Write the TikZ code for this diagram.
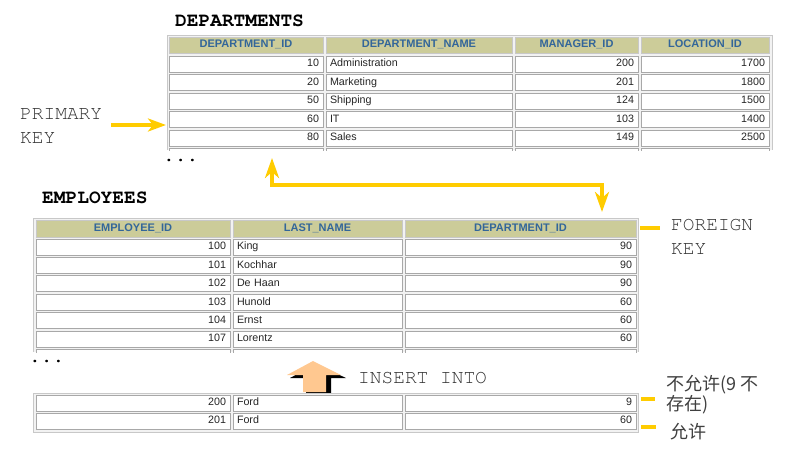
\documentclass[tikz,border=0pt]{standalone}
\usepackage{fontspec}
\setmainfont{Liberation Sans}
\newfontfamily\monofont{TeX Gyre Cursor}
\newfontfamily\cjk{Noto Sans CJK SC}
\usetikzlibrary{arrows.meta}
\definecolor{ykey}{HTML}{FFCC00}
\definecolor{khaki}{HTML}{CCCC99}
\definecolor{hblue}{HTML}{336699}
\definecolor{cellgray}{HTML}{A8A8A8}
\definecolor{framegray}{HTML}{C8C8C8}
\definecolor{tablebg}{HTML}{F2F2F2}
\definecolor{peach}{HTML}{FFC890}
\newcommand\tcell[8]{%
  \pgfmathsetmacro\tcw{#4-#2-8}%
  \pgfmathsetmacro\tch{#5-#3}%
  \pgfmathsetmacro\tcx{(#2+#4)/2}%
  \pgfmathsetmacro\tcy{(#3+#5)/2}%
  \node[#6, text width=\tcw pt, minimum height=\tch pt, align=#7] (#1) at (\tcx,\tcy) {#8};%
}
\tikzset{
  cellbox/.style={draw=cellgray, fill=white, line width=1pt, inner xsep=4pt, inner ysep=0pt,
    font=\fontsize{10.7}{12}\selectfont, text=black!85, text height=7.6pt, text depth=2pt},
  headbox/.style={draw=framegray, fill=khaki, line width=1pt, inner xsep=4pt, inner ysep=0pt,
    font=\fontsize{11}{12}\selectfont\bfseries, text=hblue, text height=7.8pt, text depth=2pt},
  monolabel/.style={inner sep=0pt, font=\monofont\fontsize{19.5}{24}\selectfont, text=black!80, align=left},
  titlelabel/.style={inner sep=0pt, font=\monofont\bfseries\fontsize{19.5}{24}\selectfont, text=black},
  cjklabel/.style={inner sep=0pt, font=\cjk\fontsize{18}{17}\selectfont, text=black!75, align=left},
  yarrow/.style={draw=ykey, line width=4pt, -{Stealth[length=18pt,width=13pt,inset=5pt]}},
  ydouble/.style={draw=ykey, line width=4pt, {Stealth[length=20pt,width=14pt,inset=6pt]}-{Stealth[length=20pt,width=14pt,inset=6pt]}},
  ydash/.style={draw=ykey, line width=4pt},
}
\begin{document}
\begin{tikzpicture}[x=1pt,y=-1pt]
\useasboundingbox[fill=white] (0,0) rectangle (801,463);

% ---------------- DEPARTMENTS ----------------
\node[titlelabel, anchor=base west] (dtitle) at (175,27) {DEPARTMENTS};
\fill[tablebg] (167,35) rectangle (772,150);
\draw[framegray, line width=1pt] (167,150) -- (167,35) -- (772,35) -- (772,150);
\tcell{dh1}{169}{37}{323}{53}{headbox}{center}{DEPARTMENT\_ID}
\tcell{dh2}{326}{37}{512}{53}{headbox}{center}{DEPARTMENT\_NAME}
\tcell{dh3}{515}{37}{638}{53}{headbox}{center}{MANAGER\_ID}
\tcell{dh4}{641}{37}{769}{53}{headbox}{center}{LOCATION\_ID}
\foreach \a/\b/\c/\d [count=\i] in {10/Administration/200/1700, 20/Marketing/201/1800,
    50/Shipping/124/1500, 60/IT/103/1400, 80/Sales/149/2500}{
  \pgfmathsetmacro\ytop{56+(\i-1)*18.5}
  \pgfmathsetmacro\ybot{\ytop+16}
  \tcell{d\i c1}{169}{\ytop}{323}{\ybot}{cellbox}{right}{\a}
  \tcell{d\i c2}{326}{\ytop}{512}{\ybot}{cellbox}{left}{\b}
  \tcell{d\i c3}{515}{\ytop}{638}{\ybot}{cellbox}{right}{\c}
  \tcell{d\i c4}{641}{\ytop}{769}{\ybot}{cellbox}{right}{\d}
}
\begin{scope}
  \clip (160,147) rectangle (780,150.5);
  \foreach \xa/\xb in {169/323, 326/512, 515/638, 641/769}
    \draw[cellgray, line width=1pt, fill=white] (\xa,148.5) rectangle (\xb,160);
\end{scope}
\node[titlelabel, anchor=base west] (ddots) at (163,161) {...};

% PRIMARY KEY
\node[monolabel, anchor=west] (pk) at (20,126) {PRIMARY\\KEY};
\coordinate (pktip) at (166,125);
\draw[yarrow] ([xshift=9pt]pk.east |- pktip) -- (pktip);

% link between the tables
\coordinate (fktop) at (272,158);
\coordinate (fkmid) at (602,185);
\coordinate (fkbot) at (602,212);
\draw[ydouble] (fktop) |- (fkmid) -- (fkbot);

% ---------------- EMPLOYEES ----------------
\node[titlelabel, anchor=base west] (etitle) at (42,203) {EMPLOYEES};
\fill[tablebg] (33,218) rectangle (638,352);
\draw[framegray, line width=1pt] (33,352) -- (33,218) -- (638,218) -- (638,352);
\tcell{eh1}{36}{220}{230}{237}{headbox}{center}{EMPLOYEE\_ID}
\tcell{eh2}{233}{220}{402}{237}{headbox}{center}{LAST\_NAME}
\tcell{eh3}{405}{220}{636}{237}{headbox}{center}{DEPARTMENT\_ID}
\foreach \a/\b/\c [count=\i] in {100/King/90, 101/Kochhar/90, 102/De Haan/90,
    103/Hunold/60, 104/Ernst/60, 107/Lorentz/60}{
  \pgfmathsetmacro\ytop{239+(\i-1)*18.4}
  \pgfmathsetmacro\ybot{\ytop+16}
  \tcell{e\i c1}{36}{\ytop}{230}{\ybot}{cellbox}{right}{\a}
  \tcell{e\i c2}{233}{\ytop}{402}{\ybot}{cellbox}{left}{\b}
  \tcell{e\i c3}{405}{\ytop}{636}{\ybot}{cellbox}{right}{\c}
}
\begin{scope}
  \clip (25,348) rectangle (645,352.5);
  \foreach \xa/\xb in {36/230, 233/402, 405/636}
    \draw[cellgray, line width=1pt, fill=white] (\xa,349.5) rectangle (\xb,360);
\end{scope}
\node[titlelabel, anchor=base west] (edots) at (29,362) {...};

% FOREIGN KEY
\node[monolabel, anchor=north west] (fk) at (671,219) {FOREIGN\\KEY};
\coordinate (fkd1) at (640,228);
\coordinate (fkd2) at (660,228);
\draw[ydash] (fkd1) -- (fkd2);

% INSERT INTO arrow
\fill[black] (316,364) -- (346,378) -- (331,378) -- (331,395) -- (306,395) -- (306,378) -- (290,378) -- cycle;
\fill[peach] (313,361) -- (341,375) -- (326,375) -- (326,392) -- (303,392) -- (303,375) -- (287,375) -- cycle;
\node[monolabel, anchor=base west] (ins) at (358,383) {INSERT INTO};

% new rows
\fill[tablebg] (33,393) rectangle (638,432);
\draw[framegray, line width=1pt] (33,393) rectangle (638,432);
\foreach \a/\b/\c [count=\i] in {200/Ford/9, 201/Ford/60}{
  \pgfmathsetmacro\ytop{395+(\i-1)*18}
  \pgfmathsetmacro\ybot{\ytop+16}
  \tcell{n\i c1}{36}{\ytop}{230}{\ybot}{cellbox}{right}{\a}
  \tcell{n\i c2}{233}{\ytop}{402}{\ybot}{cellbox}{left}{\b}
  \tcell{n\i c3}{405}{\ytop}{636}{\ybot}{cellbox}{right}{\c}
}
\coordinate (nd1a) at (641,399);
\coordinate (nd1b) at (655,399);
\coordinate (nd2a) at (641,427);
\coordinate (nd2b) at (656,427);
\draw[ydash] (nd1a) -- (nd1b);
\draw[ydash] (nd2a) -- (nd2b);
\node[cjklabel, anchor=north west] (no) at (666,375) {不允许(9 不\\存在)};
\node[cjklabel, anchor=north west] (yes) at (670,423) {允许};
\end{tikzpicture}
\end{document}
